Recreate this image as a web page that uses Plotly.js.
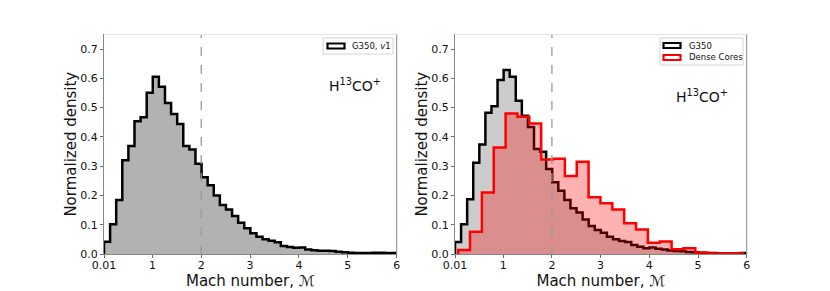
<!DOCTYPE html>
<html>
<head>
<meta charset="utf-8">
<script src="https://cdn.plot.ly/plotly-3.0.1.min.js"></script>
<style>html,body{margin:0;padding:0;background:#fff;}#chart{width:830px;height:291px;}</style>
</head>
<body>
<div id="chart"></div>
<script>
// ---- data ----
// G350 (left panel, v1) histogram: 48 bins from 0.01 to 6
const g350BinStart = 0.01;
const g350BinWidth = 5.99 / 48;
const g350LeftValues = [0.042, 0.102, 0.184, 0.32, 0.369, 0.453, 0.467, 0.551, 0.605, 0.571,
  0.516, 0.478, 0.444, 0.369, 0.357, 0.308, 0.262, 0.235, 0.20, 0.167,
  0.152, 0.13, 0.107, 0.088, 0.071, 0.059, 0.05, 0.045, 0.04, 0.027,
  0.024, 0.021, 0.022, 0.015, 0.013, 0.011, 0.011, 0.01, 0.008, 0.006,
  0.004, 0.003, 0.003, 0.003, 0.004, 0.004, 0.003, 0.003];
// G350 (right panel) histogram
const g350RightValues = [0.041, 0.102, 0.187, 0.312, 0.374, 0.482, 0.505, 0.594, 0.628, 0.605,
  0.523, 0.472, 0.434, 0.359, 0.349, 0.29, 0.245, 0.216, 0.184, 0.156,
  0.142, 0.118, 0.096, 0.082, 0.073, 0.059, 0.05, 0.044, 0.041, 0.031,
  0.025, 0.02, 0.022, 0.018, 0.015, 0.012, 0.01, 0.009, 0.007, 0.006,
  0.004, 0.003, 0.003, 0.002, 0.002, 0.002, 0.002, 0.003];
// Dense cores histogram: 24 bins
const coresBinStart = 0.075;
const coresBinWidth = 0.2435;
const coresValues = [0.014, 0.076, 0.21, 0.364, 0.48, 0.469, 0.446, 0.323, 0.325, 0.266,
  0.315, 0.194, 0.173, 0.152, 0.105, 0.084, 0.038, 0.043, 0.016, 0.02,
  0.005, 0.002, 0.002, 0.002];
const xTickVals = [0.01, 1, 2, 3, 4, 5, 6];
const xTickText = ['0.01', '1', '2', '3', '4', '5', '6'];
const thresholdMach = 2;
const leftLegendName = 'G350, <i>v</i>1';
const rightLegendNames = ['G350', 'Dense Cores'];
const lineLabel = 'H<sup>13</sup>CO<sup>+</sup>';

// ---- helpers ----
function stepOutline(start, width, vals) {
  const xs = [start], ys = [0];
  for (let i = 0; i < vals.length; i++) { xs.push(start + i * width); ys.push(vals[i]); }
  const end = start + vals.length * width;
  xs.push(end); ys.push(vals[vals.length - 1]);
  xs.push(end); ys.push(0);
  return {x: xs, y: ys};
}
const L = stepOutline(g350BinStart, g350BinWidth, g350LeftValues);
const R = stepOutline(g350BinStart, g350BinWidth, g350RightValues);
const C = stepOutline(coresBinStart, coresBinWidth, coresValues);

const FONT = 'DejaVu Sans, sans-serif';
const traces = [
  {x: L.x, y: L.y, xaxis: 'x', yaxis: 'y', mode: 'lines', line: {shape: 'hv', color: '#000', width: 2.5},
   fill: 'tozeroy', fillcolor: 'rgb(178,178,178)', name: leftLegendName, showlegend: false, hoverinfo: 'skip'},
  {x: R.x, y: R.y, xaxis: 'x2', yaxis: 'y2', mode: 'lines', line: {shape: 'hv', color: '#000', width: 2.5},
   fill: 'tozeroy', fillcolor: 'rgba(0,0,0,0.2)', name: rightLegendNames[0], showlegend: false, hoverinfo: 'skip'},
  {x: C.x, y: C.y, xaxis: 'x2', yaxis: 'y2', mode: 'lines', line: {shape: 'hv', color: 'rgb(255,0,0)', width: 2.5},
   fill: 'tozeroy', fillcolor: 'rgba(255,0,0,0.3)', name: rightLegendNames[1], showlegend: false, hoverinfo: 'skip'}
];

const W = 830, H = 291;
const leftPx = [104, 396.7], rightPx = [455, 746.7], topPx = 34.4, botPx = 254;
const yDom = [(H - botPx) / H, (H - topPx) / H];
const px = v => v / W, py = v => (H - v) / H;

function xAxis(dom, anchor) {
  return {domain: [dom[0] / W, dom[1] / W], anchor: anchor, range: [0.01, 6],
    tickvals: xTickVals, ticktext: xTickText, ticks: 'outside', ticklen: 3, tickwidth: 0.8,
    tickcolor: '#444', showline: true, linecolor: '#888', linewidth: 1, zeroline: false, showgrid: false,
    tickfont: {family: FONT, size: 11, color: '#111'}, ticklabelstandoff: -2,
    title: {text: 'Mach number, ℳ', font: {family: FONT, size: 15, color: '#111'}, standoff: 0},
    automargin: false};
}
function yAxis(anchor) {
  return {domain: yDom, anchor: anchor, range: [0, 0.75], dtick: 0.1, tick0: 0, tickformat: '.1f',
    ticks: 'outside', ticklen: 3, tickwidth: 0.8, tickcolor: '#444', showline: true, linecolor: '#888',
    linewidth: 1, zeroline: false, showgrid: false,
    tickfont: {family: FONT, size: 11, color: '#111'},
    title: {text: 'Normalized density', font: {family: FONT, size: 15, color: '#111'}, standoff: 0},
    automargin: false};
}

function rectPx(x0, x1, y0, y1, line, fill, width) {
  return {type: 'rect', xref: 'paper', yref: 'paper', x0: px(x0), x1: px(x1), y0: py(y1), y1: py(y0),
    line: {color: line, width: width}, fillcolor: fill, layer: 'above'};
}

const layout = {
  width: W, height: H, margin: {l: 0, r: 0, t: 0, b: 0},
  paper_bgcolor: '#fff', plot_bgcolor: 'rgba(0,0,0,0)', showlegend: false,
  xaxis: xAxis(leftPx, 'y'), yaxis: yAxis('x'),
  xaxis2: xAxis(rightPx, 'y2'), yaxis2: yAxis('x2'),
  shapes: [
    {type: 'line', xref: 'x', yref: 'y domain', x0: thresholdMach, x1: thresholdMach, y0: 0, y1: 1,
     line: {color: '#999', width: 1.3, dash: 'dash'}, layer: 'above'},
    {type: 'line', xref: 'x2', yref: 'y2 domain', x0: thresholdMach, x1: thresholdMach, y0: 0, y1: 1,
     line: {color: '#999', width: 1.3, dash: 'dash'}, layer: 'above'},
    // top & right spines
    {type: 'line', xref: 'x domain', yref: 'y domain', x0: 0, x1: 1, y0: 1, y1: 1, line: {color: '#e4e4e4', width: 1}},
    {type: 'line', xref: 'x domain', yref: 'y domain', x0: 1, x1: 1, y0: 0, y1: 1, line: {color: '#888', width: 1}},
    {type: 'line', xref: 'x2 domain', yref: 'y2 domain', x0: 0, x1: 1, y0: 1, y1: 1, line: {color: '#e4e4e4', width: 1}},
    {type: 'line', xref: 'x2 domain', yref: 'y2 domain', x0: 1, x1: 1, y0: 0, y1: 1, line: {color: '#888', width: 1}},
    // legends
    rectPx(323, 393, 38, 54, '#d4d4d4', '#fff', 1),
    rectPx(327.5, 344.5, 43.5, 48.5, '#000', '#fff', 2.2),
    rectPx(660, 743, 38, 65, '#d4d4d4', '#fff', 1),
    rectPx(663.5, 680.5, 43, 48, '#000', '#fff', 2.2),
    rectPx(663.5, 680.5, 55, 60, 'rgb(255,0,0)', '#fff', 2.2)
  ],
  annotations: [
    {text: leftLegendName, xref: 'paper', yref: 'paper', x: px(350), y: py(46), xanchor: 'left', yanchor: 'middle',
     showarrow: false, font: {family: FONT, size: 8.5, color: '#111'}},
    {text: rightLegendNames[0], xref: 'paper', yref: 'paper', x: px(686.5), y: py(45.5), xanchor: 'left', yanchor: 'middle',
     showarrow: false, font: {family: FONT, size: 8.5, color: '#111'}},
    {text: rightLegendNames[1], xref: 'paper', yref: 'paper', x: px(686.5), y: py(57.5), xanchor: 'left', yanchor: 'middle',
     showarrow: false, font: {family: FONT, size: 8.5, color: '#111'}},
    {text: lineLabel, xref: 'paper', yref: 'paper', x: px(355), y: py(85), xanchor: 'center', yanchor: 'middle',
     showarrow: false, font: {family: FONT, size: 14, color: '#111'}},
    {text: lineLabel, xref: 'paper', yref: 'paper', x: px(702), y: py(96), xanchor: 'center', yanchor: 'middle',
     showarrow: false, font: {family: FONT, size: 14, color: '#111'}}
  ]
};

Plotly.newPlot('chart', traces, layout, {displayModeBar: false, staticPlot: true});
</script>
</body>
</html>
